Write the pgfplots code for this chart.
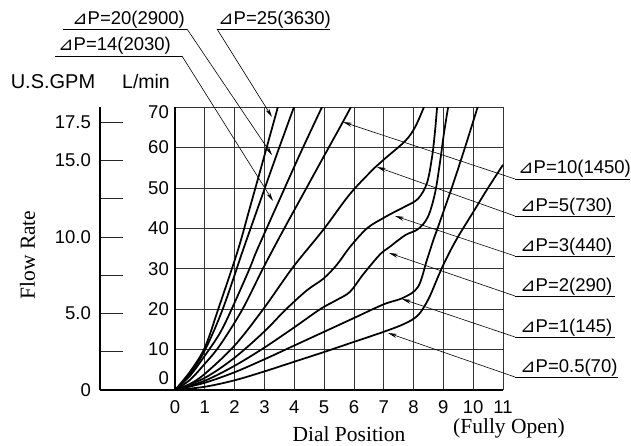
\documentclass[border=0pt]{standalone}
\usepackage{pgfplots}
\pgfplotsset{compat=1.18}
\usetikzlibrary{arrows.meta}
\usepackage{fontspec}
\setmainfont{Liberation Sans}
\newfontfamily\serifr{Liberation Serif}
\newfontfamily\djv{DejaVu Sans}
\newcommand{\fs}{\fontsize{18.5}{18.5}\selectfont}
\newcommand{\tri}{{\djv ⊿}}
\newcommand{\dpl}[1]{\tri P=#1}
\begin{document}
\begin{tikzpicture}[x=1pt,y=1pt]
\tikzset{crv/.style={black,line width=1.75pt,smooth,tension=0.55,mark=none}}
% GPM axis
\begin{axis}[at={(100pt,55pt)}, anchor=south west, scale only axis, width=75pt, height=283pt,
  xmin=0, xmax=1, ymin=0, ymax=18.4921,
  axis x line=bottom, axis y line=left, axis line style={line width=1.8pt,-},
  xtick=\empty, ytick={0,2.5,5,7.5,10,12.5,15,17.5},
  yticklabels={0,,5.0,,10.0,,15.0,17.5},
  tick align=inside, major tick length=23pt,
  ytick style={line width=0.9pt,black!85},
  tick label style={font=\fs}, /pgf/number format/assume math mode=true,
  yticklabel style={anchor=east,inner sep=0pt,xshift=-9pt}]
\end{axis}
% main axis
\begin{axis}[at={(175pt,55pt)}, anchor=south west, scale only axis, width=328pt, height=283pt,
  xmin=0, xmax=11, ymin=0, ymax=70,
  xtick={0,1,2,3,4,5,6,7,8,9,10,11}, ytick={0,10,20,30,40,50,60,70},
  yticklabels={,10,20,30,40,50,60,},
  grid=major, major grid style={black!80,line width=0.7pt},
  axis x line=bottom, axis y line=left, axis line style={line width=1.8pt,-},
  major tick length=0pt,
  tick label style={font=\fs}, /pgf/number format/assume math mode=true,
  xticklabel style={anchor=center,yshift=-17pt},
  yticklabel style={anchor=east,inner sep=0pt,xshift=-6pt}]
% dP=25
\addplot[crv] coordinates {(0,0)(0.5,4.5)(1,10.5)(1.45,20)(2.11,34.6)(2.5,44.8)(3,58)(3.45,70)};
% dP=20
\addplot[crv] coordinates {(0,0)(0.5,4)(1,9.8)(1.6,20)(2.28,34.6)(2.8,45.5)(3.4,58)(3.99,70)};
% dP=14
\addplot[crv] coordinates {(0,0)(0.5,3.5)(1,8.5)(1.5,14)(1.9,20)(2.5,30)(2.75,34.6)(3.5,47)(4.2,58.5)(4.93,70)};
% dP=10
\addplot[crv] coordinates {(0,0)(0.5,2.5)(1,6.5)(1.5,11)(2.25,19.8)(2.96,30.2)(3.63,39.5)(4.3,48.5)(4.97,57.5)(5.63,66.3)(5.9,70)};
% dP=5
\addplot[crv] coordinates {(0,0)(0.5,1.5)(1,4)(2,11)(2.96,20)(3.96,30.4)(4.97,39.6)(5.87,48.5)(6.7,55)(7.05,57.3)(7.72,61.6)(8.05,65)(8.35,70)};
% dP=3
\addplot[crv] coordinates {(0,0)(1,3)(2,8)(3,14.5)(3.7,19.8)(4.43,24.7)(4.97,27.5)(5.43,31)(5.87,35.4)(6.44,40)(6.98,42.5)(7.35,44)(7.72,45.4)(8.15,47.3)(8.45,51.2)(8.62,57.6)(8.72,64)(8.79,70)};
% dP=2
\addplot[crv] coordinates {(0,0)(1,2.3)(2,6)(3,10.5)(4,15.5)(4.87,20)(5.43,22.3)(5.87,24.3)(6.3,28.5)(6.87,33.5)(7.2,35.4)(7.72,38.3)(8.15,39.8)(8.48,42.8)(8.72,48.7)(8.89,56.5)(9.02,63.5)(9.16,70)};
% dP=1
\addplot[crv] coordinates {(0,0)(1,1.8)(2,4.4)(3,7.6)(4,11)(5,14.4)(6,17.8)(7,21.2)(7.65,22.8)(8.15,25.5)(8.45,32.2)(8.66,37)(8.82,40.3)(9.29,50.2)(9.73,60.1)(10.15,70)};
% dP=0.5
\addplot[crv] coordinates {(0,0)(1,0.8)(2,2.4)(3,4.6)(4,7)(5,9.4)(6,11.9)(7,14.4)(7.7,16.4)(8.15,18.5)(8.5,22.5)(8.85,28.5)(9.1,32.5)(9.46,37.5)(10,44)(10.5,50)(11,55.7)};
\end{axis}
% extra tick labels
\node[font=\fs,anchor=east,inner sep=0pt] at (169pt,67pt) {0};
\node[font=\fs,anchor=east,inner sep=0pt] at (169pt,332.5pt) {70};
\node[font=\fontsize{20}{20}\selectfont] at (53pt,363pt) {U.S.GPM};
\node[font=\fontsize{19.5}{19.5}\selectfont] at (146pt,363pt) {L/min};
% axis titles
\node[font=\serifr\fontsize{21.5}{21.5}\selectfont,rotate=90,anchor=base] at (35pt,190pt) {Flow Rate};
\node[font=\serifr\fontsize{21.5}{21.5}\selectfont,anchor=base] at (349pt,3.5pt) {Dial Position};
\node[font=\serifr\fontsize{21.5}{21.5}\selectfont,anchor=base] at (509pt,12pt) {(Fully Open)};
% leaders
\tikzset{ld/.style={line width=0.6pt,-{Stealth[length=9pt,width=4pt]}}, ul/.style={line width=0.6pt}}
\node[font=\fs,anchor=base west,inner sep=0pt] at (72pt,420pt) {\dpl{20(2900)}};
\draw[ul] (63pt,416pt) -- (187pt,416pt); \draw[ld] (187pt,416pt) -- (272pt,290pt);
\node[font=\fs,anchor=base west,inner sep=0pt] at (218pt,420pt) {\dpl{25(3630)}};
\draw[ul] (217pt,416pt) -- (330pt,416pt); \draw[ld] (217pt,416pt) -- (272pt,328pt);
\node[font=\fs,anchor=base west,inner sep=0pt] at (58pt,394pt) {\dpl{14(2030)}};
\draw[ul] (55pt,389pt) -- (182pt,389pt); \draw[ld] (182pt,389pt) -- (273pt,244pt);
%
\node[font=\fs,anchor=base west,inner sep=0pt] at (518pt,271pt) {\dpl{10(1450)}};
\draw[ul] (515pt,266pt) -- (630pt,266pt); \draw[ld] (515pt,266pt) -- (343pt,323pt);
\node[font=\fs,anchor=base west,inner sep=0pt] at (520pt,234pt) {\dpl{5(730)}};
\draw[ul] (515pt,229pt) -- (615pt,229pt); \draw[ld] (515pt,229pt) -- (377pt,278pt);
\node[font=\fs,anchor=base west,inner sep=0pt] at (520pt,194pt) {\dpl{3(440)}};
\draw[ul] (515pt,189pt) -- (615pt,189pt); \draw[ld] (515pt,189pt) -- (395pt,229pt);
\node[font=\fs,anchor=base west,inner sep=0pt] at (520pt,154pt) {\dpl{2(290)}};
\draw[ul] (515pt,149pt) -- (615pt,149pt); \draw[ld] (515pt,149pt) -- (389pt,192pt);
\node[font=\fs,anchor=base west,inner sep=0pt] at (520pt,113pt) {\dpl{1(145)}};
\draw[ul] (515pt,108pt) -- (615pt,108pt); \draw[ld] (515pt,108pt) -- (402pt,146pt);
\node[font=\fs,anchor=base west,inner sep=0pt] at (520pt,73pt) {\dpl{0.5(70)}};
\draw[ul] (515pt,68pt) -- (618pt,68pt); \draw[ld] (515pt,68pt) -- (388pt,112pt);
\pgfresetboundingbox
\useasboundingbox (0pt,0pt) rectangle (631pt,445pt);
\end{tikzpicture}
\end{document}
